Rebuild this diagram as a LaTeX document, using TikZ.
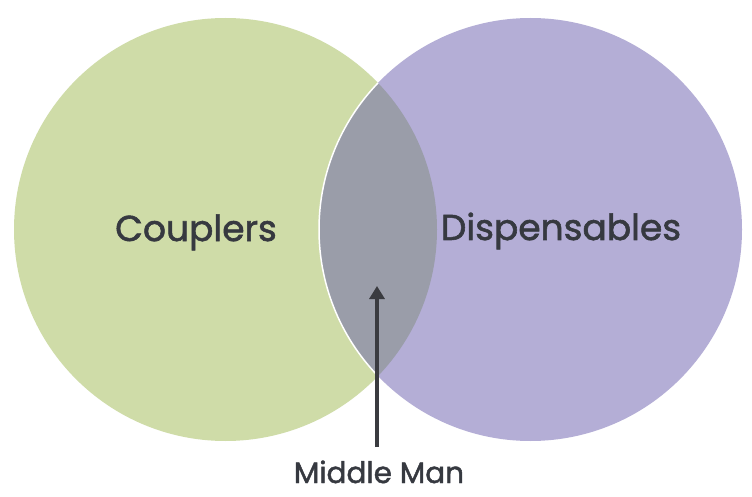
\documentclass[tikz,border=0pt]{standalone}
\usepackage{fontspec}
\setmainfont{Poppins}[BoldFont=Poppins, BoldFeatures={FakeBold=1.6}]
\usetikzlibrary{arrows.meta}
\definecolor{cgreen}{HTML}{CFDCA8}
\definecolor{cpurple}{HTML}{B4AED6}
\definecolor{clens}{HTML}{9A9DA9}
\definecolor{ctext}{HTML}{363940}
\definecolor{carrow}{HTML}{3A3B40}
\tikzset{
  lbl/.style={text=ctext, inner sep=0pt, anchor=base},
}
\begin{document}
\begin{tikzpicture}[x=1pt,y=-1pt]
\useasboundingbox[fill=white] (0,0) rectangle (752,497);
\fill[cgreen] (225.5,229.5) circle (211.5);
\fill[cpurple] (530.5,229.5) circle (211.5);
\begin{scope}
  \clip (225.5,229.5) circle (211.5);
  \fill[clens] (530.5,229.5) circle (211.5);
  \draw[white, line width=1.5pt] (530.5,229.5) circle (211.5);
\end{scope}
\node[lbl, font=\fontsize{36}{40}\selectfont\bfseries] (c) at (196,241) {Couplers};
\node[lbl, font=\fontsize{36}{40}\selectfont\bfseries] (d) at (561,240) {Dispensables};
\node[lbl, font=\fontsize{29.5}{33}\selectfont\bfseries] (m) at (379,483) {Middle Man};
\coordinate (tip) at (377,286);
\coordinate (tail) at (377,447);
\draw[carrow, line width=4pt, -{Triangle[length=13pt,width=15pt]}] (tail) -- (tip);
\end{tikzpicture}
\end{document}
